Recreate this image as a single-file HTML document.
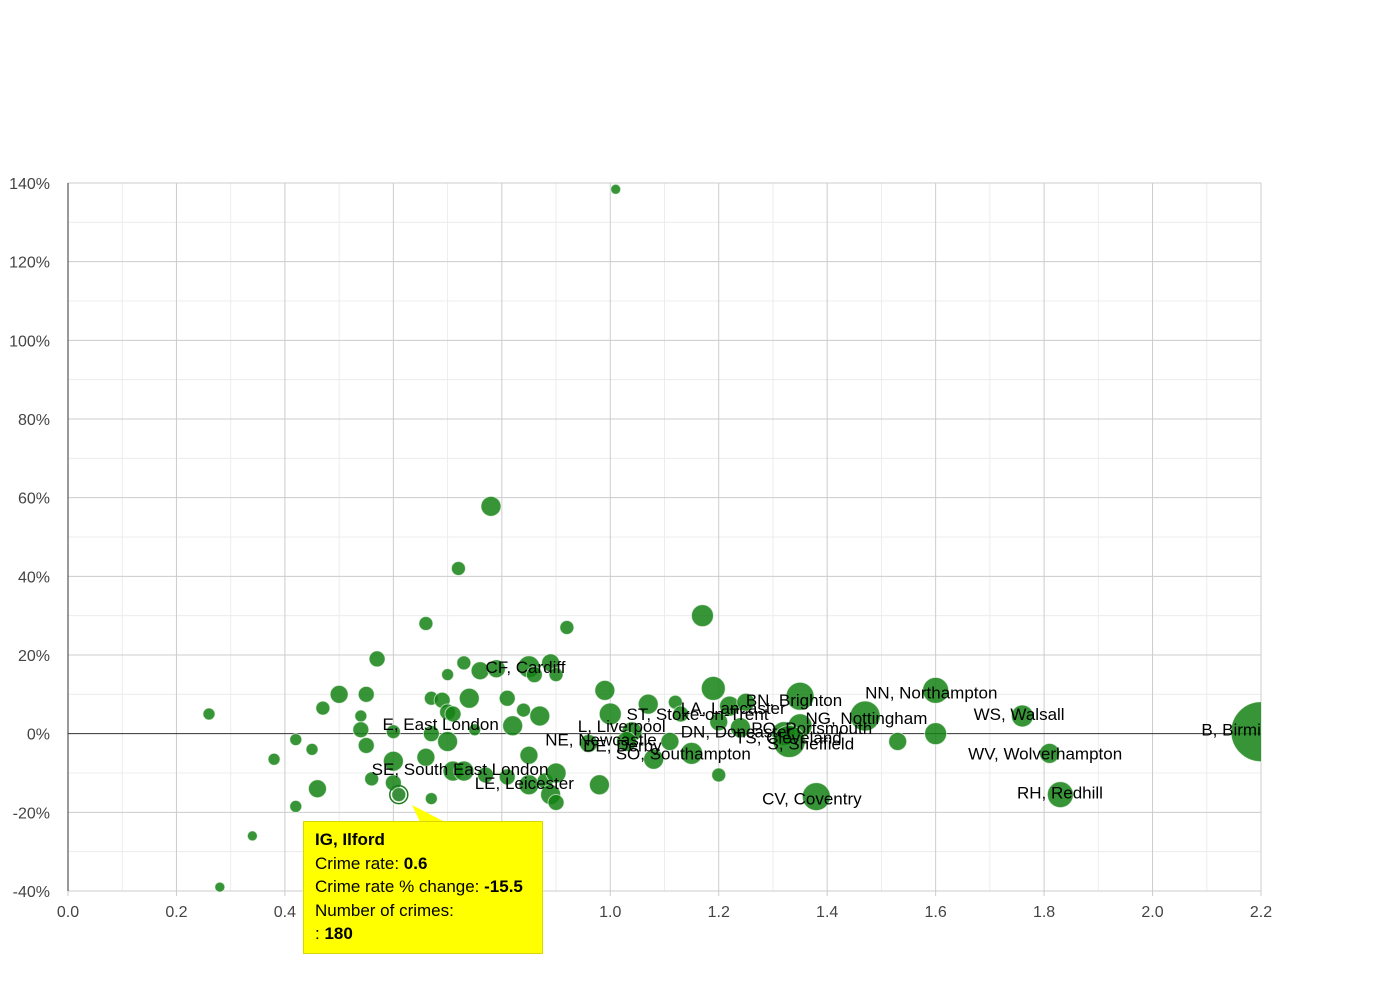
<!DOCTYPE html>
<html><head><meta charset="utf-8"><style>
body{margin:0;background:#fff;font-family:"Liberation Sans",sans-serif}
#wrap{position:relative;width:1390px;height:980px}
svg text{font-family:"Liberation Sans",sans-serif}
#tip{position:absolute;left:303px;top:821px;width:227px;height:117px;background:#ffff00;border:1px solid #d8d800;padding:6px 0 8px 11px;font-size:17px;line-height:23.5px;color:#000}
</style></head><body>
<div id="wrap">
<svg id="chart" width="1390" height="980"></svg>
<div id="tip">
<b>IG, Ilford</b><br>Crime rate: <b>0.6</b><br>Crime rate % change: <b>-15.5</b><br>Number of crimes:<br>: <b>180</b>
</div>
</div>
<script>
const xs=[1.01,0.78,0.72,0.66,1.17,0.92,0.57,0.73,0.76,0.79,0.85,0.89,0.86,0.90,0.70,0.26,0.47,0.50,0.55,0.54,0.67,0.69,0.74,0.81,0.82,0.87,0.84,0.70,0.71,0.54,0.60,0.67,0.70,0.75,0.42,0.45,0.38,0.55,0.60,0.66,0.85,0.56,0.46,0.60,0.67,0.71,0.73,0.77,0.81,0.85,0.88,0.90,0.89,0.90,0.98,0.42,0.34,0.28,0.99,1.00,1.07,1.12,1.13,1.19,1.22,1.25,1.35,1.20,1.24,1.35,1.32,1.33,1.04,0.96,1.03,1.11,1.08,1.15,1.20,1.47,1.60,1.53,1.60,1.76,1.81,1.83,1.38,2.2,0.61];
const ys=[138.4,57.8,42,28,30,27,19,18,16,16.5,17,18,15,15,15,5,6.5,10,10,4.5,9,8.5,9,9,2,4.5,6,5.5,5,1,0.5,0,-2,1,-1.5,-4,-6.5,-3,-7,-6,-5.5,-11.5,-14,-12.5,-16.5,-9.5,-9.5,-10.5,-11,-13,-12,-10,-15.5,-17.5,-13,-18.5,-26,-39,11,5,7.5,8,5,11.5,7,8,9.5,3,1.5,2,0,-2,0.5,-2.5,-2,-2,-6.5,-5,-10.5,4.5,11,-2,0,4.5,-5,-15.5,-16,0.5,-15.5];
const sizes=[5,10,7,7,11,7,8,7,9,9,11,9,8,7,6,6,7,9,8,6,7,8,10,8,10,10,7,8,8,8,7,8,10,6,6,6,6,8,10,9,9,7,9,8,6,10,10,8,8,10,8,10,10,8,10,6,5,5,10,11,10,7,8,12,10,9,14,9,10,12,12,16,10,9,10,9,10,11,7,15,13,9,11,11,10,13,14,30,7];
const labels=["CF, Cardiff","E, East London","SE, South East London","LE, Leicester","L, Liverpool","NE, Newcastle","DE, Derby","SO, Southampton","ST, Stoke-on-Trent","LA, Lancaster","BN, Brighton","NG, Nottingham","PO, Portsmouth","DN, Doncaster","TS, Cleveland","S, Sheffield","NN, Northampton","WS, Walsall","B, Birmingham","WV, Wolverhampton","RH, Redhill","CV, Coventry"];
const labelX=[0.77,0.58,0.56,0.75,0.94,0.88,0.95,1.01,1.03,1.13,1.25,1.36,1.26,1.13,1.23,1.29,1.47,1.67,2.09,1.66,1.75,1.28];
const labelY=[17,2.5,-9,-12.5,2,-1.5,-3,-5,5,6.5,8.5,4,1.5,0.5,-1,-2.5,10.5,5,1,-5,-15,-16.5];
const xTicks=[0,0.2,0.4,0.6,0.8,1.0,1.2,1.4,1.6,1.8,2.0,2.2];
const yTicks=[-40,-20,0,20,40,60,80,100,120,140];
const X0=68,X1=1261,Y0=891,Y1=183;
const sx=v=>X0+(v-0)/2.2*(X1-X0);
const sy=v=>Y0-(v+40)/180*(Y0-Y1);
const svg=document.getElementById('chart');
const NS='http://www.w3.org/2000/svg';
function mk(t,a){const e=document.createElementNS(NS,t);for(const k in a)e.setAttribute(k,a[k]);svg.appendChild(e);return e;}
// minor grid
for(let v=0.1;v<2.2;v+=0.2){const l=mk('line',{x1:sx(v),x2:sx(v),y1:Y1,y2:Y0,stroke:'#ececec'});

}
for(let v=-30;v<140;v+=20){const l=mk('line',{x1:X0,x2:X1,y1:sy(v),y2:sy(v),stroke:'#ececec'});

}
xTicks.forEach(v=>{const l=mk('line',{x1:sx(v),x2:sx(v),y1:Y1,y2:Y0+5,stroke:'#ccc'});


const t=mk('text',{x:sx(v),y:917,'text-anchor':'middle','font-size':16,fill:'#444'});t.textContent=v.toFixed(1);

});
yTicks.forEach(v=>{const l=mk('line',{x1:X0,x2:X1,y1:sy(v),y2:sy(v),stroke:v===0?'#333':'#ccc'});


const t=mk('text',{x:50,y:sy(v)+6,'text-anchor':'end','font-size':16,fill:'#444'});t.textContent=v+'%';

});
mk('line',{x1:X0,x2:X0,y1:Y1,y2:Y0,stroke:'#333'});
const clip=mk('clipPath',{id:'cp'});const cr=document.createElementNS(NS,'rect');cr.setAttribute('x',X0);cr.setAttribute('y',Y1-10);cr.setAttribute('width',X1-X0);cr.setAttribute('height',Y0-Y1+20);clip.appendChild(cr);
const g=mk('g',{'clip-path':'url(#cp)'});
xs.forEach((v,i)=>{const c=document.createElementNS(NS,'circle');
c.setAttribute('cx',sx(v));c.setAttribute('cy',sy(ys[i]));c.setAttribute('r',sizes[i]);
c.setAttribute('fill', i===xs.length-1?'#3a8f3a':'rgba(20,130,20,0.85)');c.setAttribute('stroke','rgba(255,255,255,0.6)');


g.appendChild(c);});
const hl=mk('circle',{cx:sx(0.61),cy:sy(-15.5),r:9,fill:'none',stroke:'#1a7a1a','stroke-width':1.5});


const lg=mk('g',{'clip-path':'url(#cp)'});
labels.forEach((s,i)=>{const t=document.createElementNS(NS,'text');
t.setAttribute('x',sx(labelX[i]));t.setAttribute('y',sy(labelY[i])+6);t.setAttribute('font-size',17);t.setAttribute('fill','#000');
t.textContent=s;


lg.appendChild(t);});
const p=mk('polygon',{points:'412,805 420,822 445,822',fill:'#ffff00'});


</script>
</body></html>
